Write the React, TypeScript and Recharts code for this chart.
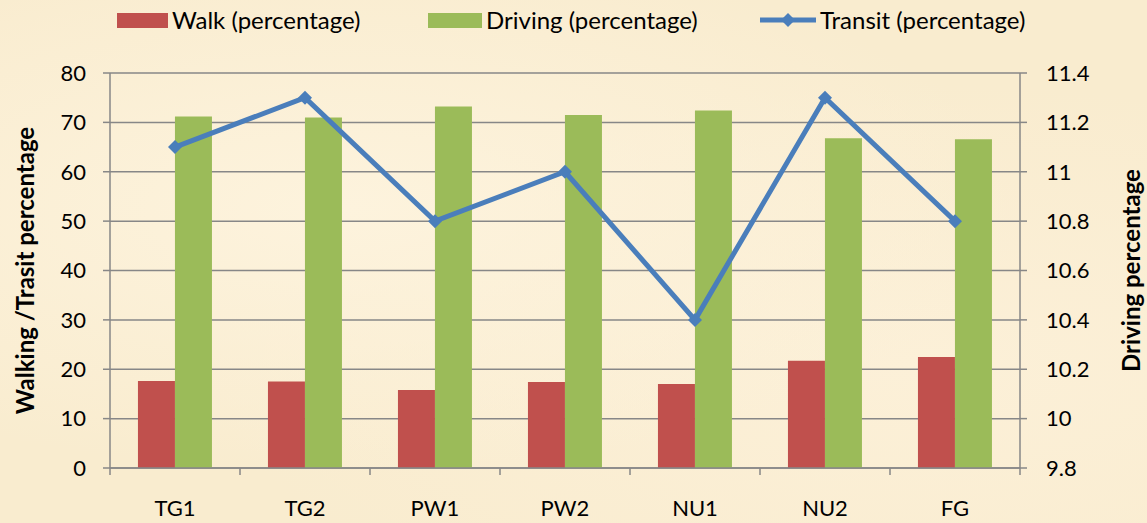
import React from "react";
import { ComposedChart, Bar, Line, XAxis, YAxis, CartesianGrid, Legend } from "recharts";

const categories = ["TG1", "TG2", "PW1", "PW2", "NU1", "NU2", "FG"];
const walk = [17.6, 17.5, 15.8, 17.4, 17.0, 21.7, 22.5];
const driving = [71.2, 71.0, 73.2, 71.5, 72.4, 66.8, 66.6];
const transit = [11.1, 11.3, 10.8, 11.0, 10.4, 11.3, 10.8];
const leftTicks = [0, 10, 20, 30, 40, 50, 60, 70, 80];
const rightTicks = [9.8, 10, 10.2, 10.4, 10.6, 10.8, 11, 11.2, 11.4];

const data = categories.map((name, i) => ({
  name,
  walk: walk[i],
  driving: driving[i],
  transit: transit[i],
}));

const W = 1147;
const H = 523;
const LEFT_W = 110;
const RIGHT_W = 127;
const X_H = 55;
const LEGEND_H = 73;
const band = (W - LEFT_W - RIGHT_W) / categories.length;

const RED = "#C0504D";
const GREEN = "#9BBB59";
const BLUE = "#4A7EBB";
const GRID = "#878787";
const FONT = "Lato, 'Open Sans', sans-serif";

function XTick(props: any) {
  const { x, y, payload, index } = props;
  const last = index === categories.length - 1;
  return (
    <g>
      <line x1={x - band / 2} x2={x - band / 2} y1={y} y2={y + 7} stroke={GRID} strokeWidth={1.5} />
      {last && <line x1={x + band / 2} x2={x + band / 2} y1={y} y2={y + 7} stroke={GRID} strokeWidth={1.5} />}
      <text x={x} y={y + 48} textAnchor="middle" fill="#000" fontSize={22} fontFamily={FONT}>
        {payload.value}
      </text>
    </g>
  );
}

function Diamond(props: any) {
  const { cx, cy } = props;
  if (cx == null || cy == null) return null;
  const r = 7;
  return <polygon points={`${cx},${cy - r} ${cx + r},${cy} ${cx},${cy + r} ${cx - r},${cy}`} fill={BLUE} />;
}

function LegendBox() {
  const item = (left: number) => ({ position: "absolute", left, top: 6, display: "flex", alignItems: "center" } as const);
  const txt = { fontSize: 24, lineHeight: "28px", color: "#000", marginLeft: 4, fontFamily: FONT, whiteSpace: "nowrap" } as const;
  return (
    <div style={{ position: "relative", height: LEGEND_H, width: W }}>
      <div style={item(117)}>
        <div style={{ width: 51, height: 15, background: RED }} />
        <span style={txt}>Walk (percentage)</span>
      </div>
      <div style={item(428)}>
        <div style={{ width: 54, height: 15, background: GREEN }} />
        <span style={txt}>Driving (percentage)</span>
      </div>
      <div style={item(760)}>
        <svg width={56} height={16}>
          <line x1={0} x2={56} y1={8} y2={8} stroke={BLUE} strokeWidth={5} />
          <polygon points="28,1 35,8 28,15 21,8" fill={BLUE} />
        </svg>
        <span style={txt}>Transit (percentage)</span>
      </div>
    </div>
  );
}

function AxisTitle(x: number, text: string) {
  return (p: any) => {
    const vb = p.viewBox || { y: LEGEND_H, height: H - LEGEND_H - X_H };
    const cy = vb.y + vb.height / 2;
    return (
      <text x={x} y={cy} transform={`rotate(-90, ${x}, ${cy})`} textAnchor="middle" dominantBaseline="central"
        fontSize={24} fontWeight="bold" fontFamily={FONT} fill="#000">
        {text}
      </text>
    );
  };
}

export default function App() {
  return (
    <div
      style={{
        position: "absolute",
        left: 0,
        top: 0,
        width: W,
        height: H,
        fontFamily: FONT,
        background:
          "radial-gradient(ellipse at 30% 40%, #FDF3DD 0%, rgba(253,243,221,0) 60%), radial-gradient(ellipse at 80% 70%, #FCF0D8 0%, rgba(252,240,216,0) 55%), #F9ECCF",
      }}
    >
      <ComposedChart width={W} height={H} data={data} margin={{ top: 0, right: 0, bottom: 0, left: 0 }} barCategoryGap="21.5%" barGap={0}>
        <Legend verticalAlign="top" content={() => <LegendBox />} wrapperStyle={{ top: 0, left: 0, width: W }} />
        <CartesianGrid vertical={false} stroke={GRID} strokeWidth={1.5} yAxisId="left" />
        <XAxis
          dataKey="name"
          height={X_H}
          axisLine={{ stroke: GRID, strokeWidth: 1.5 }}
          tickLine={false}
          tickSize={0}
          tickMargin={0}
          tick={<XTick />}
          interval={0}
        />
        <YAxis
          yAxisId="left"
          width={LEFT_W}
          domain={[0, 80]}
          ticks={leftTicks}
          interval={0}
          axisLine={{ stroke: GRID, strokeWidth: 1.5 }}
          tickLine={{ stroke: GRID, strokeWidth: 1.5 }}
          tickSize={7}
          tickMargin={17}
          tick={{ fill: "#000", fontSize: 22, fontFamily: FONT }}
          label={{ content: AxisTitle(24, "Walking /Trasit percentage") }}
        />
        <YAxis
          yAxisId="right"
          orientation="right"
          width={RIGHT_W}
          domain={[9.8, 11.4]}
          ticks={rightTicks}
          interval={0}
          axisLine={{ stroke: GRID, strokeWidth: 1.5 }}
          tickLine={{ stroke: GRID, strokeWidth: 1.5 }}
          tickSize={7}
          tickMargin={19}
          tick={{ fill: "#000", fontSize: 22, fontFamily: FONT }}
          tickFormatter={(v: number) => String(Math.round(v * 10) / 10)}
          label={{ content: AxisTitle(1130, "Driving percentage") }}
        />
        <Bar yAxisId="left" dataKey="walk" name="Walk (percentage)" fill={RED} isAnimationActive={false} />
        <Bar yAxisId="left" dataKey="driving" name="Driving (percentage)" fill={GREEN} isAnimationActive={false} />
        <Line
          yAxisId="right"
          type="linear"
          dataKey="transit"
          name="Transit (percentage)"
          stroke={BLUE}
          strokeWidth={5}
          dot={<Diamond />}
          activeDot={false}
          isAnimationActive={false}
        />
      </ComposedChart>
    </div>
  );
}
